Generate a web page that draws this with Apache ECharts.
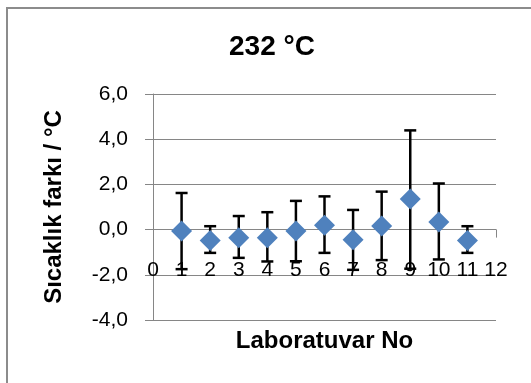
<!DOCTYPE html>
<html>
<head>
<meta charset="utf-8">
<script src="https://cdn.jsdelivr.net/npm/echarts@6/dist/echarts.min.js"></script>
<style>
  html, body { margin: 0; padding: 0; background: #fff; }
  #chart { width: 531px; height: 383px; }
</style>
</head>
<body>
<div id="chart"></div>
<script>
// Laboratory numbers and their temperature differences at 232 °C
const labs = [1, 2, 3, 4, 5, 6, 7, 8, 9, 10, 11];
const diffs = [-0.06, -0.48, -0.36, -0.36, -0.06, 0.19, -0.45, 0.16, 1.35, 0.34, -0.48];
const upperLimits = [1.62, 0.15, 0.60, 0.77, 1.27, 1.47, 0.87, 1.68, 4.39, 2.04, 0.15];
const lowerLimits = [-1.75, -1.03, -1.25, -1.41, -1.40, -1.03, -1.78, -1.35, -1.73, -1.32, -1.03];
const yTicks = [-4, -2, 0, 2, 4, 6];

const chartTitle = '232 °C';
const xName = 'Laboratuvar No';
const yName = 'Sıcaklık farkı / °C';

const FONT = '"Liberation Sans", Arial, sans-serif';
const GRAY = '#868686';

const GRID = { left: 153, right: 35, top: 94, bottom: 63 };
const plotHeight = 383 - GRID.top - GRID.bottom;
const yMin = yTicks[0];
const yMax = yTicks[yTicks.length - 1];
// horizontal axis crosses the vertical one at y = 0
const zeroOffset = -plotHeight * (0 - yMin) / (yMax - yMin);

const points = labs.map((x, i) => [x, diffs[i]]);
const bars = labs.map((x, i) => [x, lowerLimits[i], upperLimits[i]]);

const chart = echarts.init(document.getElementById('chart'), null, { renderer: 'canvas' });

chart.setOption({
  backgroundColor: '#fff',
  animation: false,
  textStyle: { fontFamily: FONT },
  graphic: [{
    type: 'rect',
    shape: { x: 7, y: 8, width: 700, height: 700 },
    style: { fill: 'none', stroke: '#8c8c8c', lineWidth: 2 },
    silent: true
  }],
  title: {
    text: chartTitle,
    left: 224,
    top: 28,
    textStyle: { fontFamily: FONT, fontSize: 28, fontWeight: 'bold', color: '#000' }
  },
  grid: Object.assign({ containLabel: false, outerBoundsMode: 'none' }, GRID),
  xAxis: {
    type: 'value',
    min: 0,
    max: 12,
    interval: 1,
    offset: zeroOffset,
    name: xName,
    nameLocation: 'middle',
    nameGap: 100,
    nameTextStyle: { fontFamily: FONT, fontSize: 24, fontWeight: 'bold', color: '#000' },
    axisLine: { show: true, onZero: false, lineStyle: { color: GRAY, width: 1 } },
    axisTick: { show: true, length: 8, lineStyle: { color: GRAY } },
    axisLabel: { fontFamily: FONT, fontSize: 21, color: '#000', margin: 30 },
    splitLine: { show: false }
  },
  yAxis: {
    type: 'value',
    min: yMin,
    max: yMax,
    interval: 2,
    name: yName,
    nameLocation: 'middle',
    nameRotate: 90,
    nameGap: 87,
    nameTextStyle: { fontFamily: FONT, fontSize: 24, fontWeight: 'bold', color: '#000' },
    axisLine: { show: true, lineStyle: { color: GRAY, width: 1 } },
    axisTick: { show: true, length: 8, lineStyle: { color: GRAY } },
    axisLabel: {
      fontFamily: FONT, fontSize: 21, color: '#000', margin: 25,
      formatter: v => v.toFixed(1).replace('.', ',')
    },
    splitLine: { show: true, lineStyle: { color: GRAY, width: 1 } }
  },
  series: [
    {
      // vertical error bars with caps
      type: 'custom',
      data: bars,
      z: 2,
      renderItem: (params, api) => {
        const x = api.value(0);
        const lo = api.coord([x, api.value(1)]);
        const hi = api.coord([x, api.value(2)]);
        const half = 6;
        const style = { stroke: '#000', lineWidth: 2.5 };
        return {
          type: 'group',
          children: [
            { type: 'line', shape: { x1: lo[0], y1: lo[1], x2: hi[0], y2: hi[1] }, style },
            { type: 'line', shape: { x1: hi[0] - half, y1: hi[1], x2: hi[0] + half, y2: hi[1] }, style },
            { type: 'line', shape: { x1: lo[0] - half, y1: lo[1], x2: lo[0] + half, y2: lo[1] }, style }
          ]
        };
      }
    },
    {
      type: 'scatter',
      data: points,
      z: 3,
      symbol: 'diamond',
      symbolSize: 21,
      itemStyle: { color: '#4F81BD', opacity: 1 }
    }
  ]
});
</script>
</body>
</html>
